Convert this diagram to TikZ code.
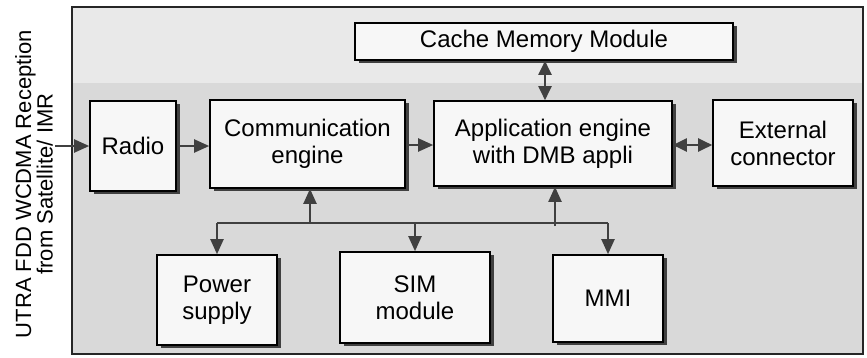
\documentclass[tikz,border=0pt]{standalone}
\usepackage{fontspec}
\setmainfont{Liberation Sans}
\usetikzlibrary{arrows.meta,shadows}
\begin{document}
\begin{tikzpicture}[x=1pt,y=-1pt,
  blk/.style={draw=black,line width=1.6pt,fill=gray!6,align=center,inner sep=0pt,
    font=\fontsize{24}{27}\selectfont,
    drop shadow={shadow xshift=3.5pt,shadow yshift=-3pt,fill=black!75,opacity=1}},
  arr/.style={draw=black!75,line width=2pt,-{Triangle[length=15pt,width=13pt]}},
  darr/.style={draw=black!75,line width=2pt,{Triangle[length=14pt,width=13pt]}-{Triangle[length=14pt,width=13pt]}},
  bus/.style={draw=black!75,line width=2pt}
]
\useasboundingbox (0,0) rectangle (867,357);
% outer frame
\fill[gray!30] (72,7) rectangle (863,354);
\fill[gray!17] (72,7) rectangle (863,83);
\draw[black!85,line width=2pt] (72,7) rectangle (863,354);

% side label
\node[rotate=90,align=center,font=\fontsize{22}{18}\selectfont] (lbl) at (34,184)
  {UTRA FDD WCDMA Reception\\from Satellite/ IMR};

% blocks
\node[blk,minimum width=378pt,minimum height=37pt] (cache) at (544,41.5) {Cache Memory Module};
\node[blk,minimum width=86pt,minimum height=90pt] (radio) at (133,146) {Radio};
\node[blk,minimum width=195pt,minimum height=88pt] (comm) at (307.5,144) {Communication\\engine};
\node[blk,minimum width=238pt,minimum height=85pt] (app) at (553,143.5) {Application engine\\with DMB appli};
\node[blk,minimum width=140pt,minimum height=86pt] (ext) at (783,143) {External\\connector};
\node[blk,minimum width=120pt,minimum height=90pt] (power) at (217,300) {Power\\supply};
\node[blk,minimum width=150pt,minimum height=91pt] (sim) at (415,297.5) {SIM\\module};
\node[blk,minimum width=110pt,minimum height=87pt] (mmi) at (608,298.5) {MMI};

% connectors
\coordinate (in) at (55,146);
\draw[arr] (in) -- (radio.west);
\draw[arr] (radio.east) -- (radio.east -| comm.west);
\draw[arr] (comm.east |- 0,145) -- (app.west |- 0,145);
\coordinate (cachearr) at (545,0);
\draw[darr] (cachearr |- cache.south) -- (cachearr |- app.north);
\draw[darr] (app.east |- 0,145) -- (ext.west |- 0,145);

% bus
\coordinate (busL) at (217,223);
\coordinate (busR) at (608,223);
\coordinate (upC) at (310,223);
\coordinate (upA) at (555,226);
\draw[bus] (busL) -- (busR);
\draw[arr] (busL) -- (power.north);
\draw[arr] (sim.north |- busL) -- (sim.north);
\draw[arr] (busR) -- (mmi.north);
\draw[arr] (upC) -- (upC |- comm.south);
\draw[arr] (upA) -- (upA |- app.south);
\end{tikzpicture}
\end{document}
